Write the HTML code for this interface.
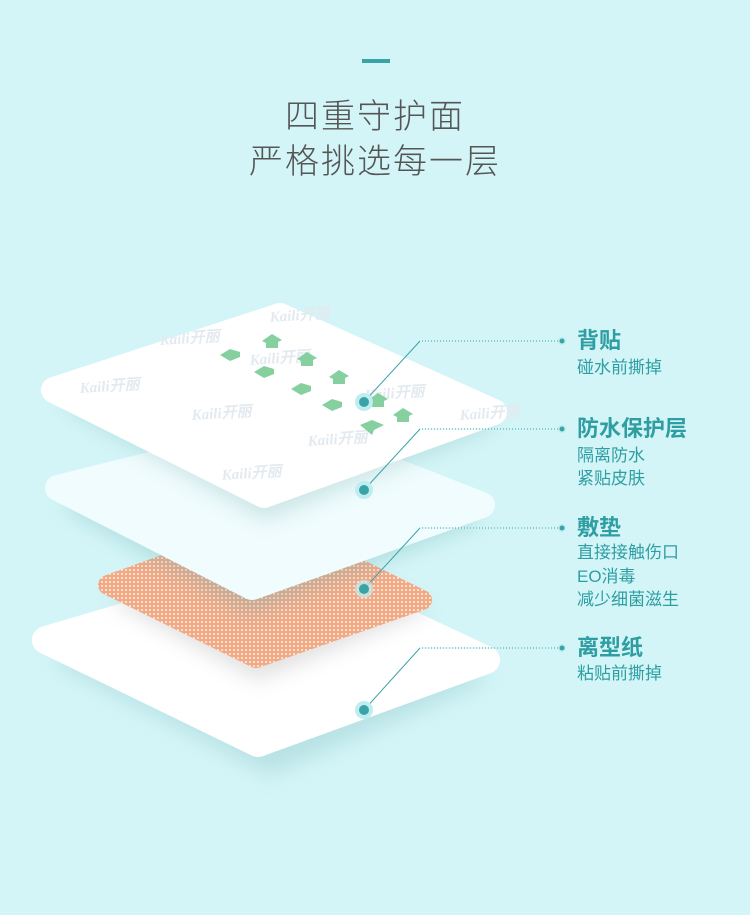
<!DOCTYPE html>
<html><head><meta charset="utf-8"><style>
body{margin:0;width:750px;height:915px;background:#d3f5f7;overflow:hidden;font-family:"Liberation Sans","Noto Sans CJK SC",sans-serif}
</style></head><body>
<svg width="750" height="915" viewBox="0 0 750 915" xmlns="http://www.w3.org/2000/svg" style="position:absolute;left:0;top:0">
<defs>
<pattern id="grid" width="4" height="4" patternUnits="userSpaceOnUse"><rect width="4" height="4" fill="#f2a986"/><rect x="1" y="1" width="2" height="2" fill="#fbe0d0"/></pattern>
<filter id="sh" x="-20%" y="-20%" width="140%" height="160%"><feGaussianBlur stdDeviation="10"/></filter>
</defs>
<rect x="362" y="59" width="28" height="4" fill="#3aa3a8"/>
<text x="375" y="128" text-anchor="middle" font-size="34" fill="#555" font-family="Liberation Sans,Noto Sans CJK SC,sans-serif" font-weight="300" letter-spacing="2">四重守护面</text>
<text x="375" y="173" text-anchor="middle" font-size="34" fill="#555" font-family="Liberation Sans,Noto Sans CJK SC,sans-serif" font-weight="300" letter-spacing="2">严格挑选每一层</text>
<g stroke-linejoin="round">
<polygon points="50,660 270,775 490,680 290,580" fill="#9fcfd3" opacity="0.5" filter="url(#sh)"/>
<polygon points="46,640 258,743 486,660 290,568" fill="#fff" stroke="#fff" stroke-width="28"/>
<polygon points="110,600 258,680 430,610 270,535" fill="#888" opacity="0.25" filter="url(#sh)"/>
<polygon points="108,585 256,658 422,600 272,526" fill="url(#grid)" stroke="url(#grid)" stroke-width="20"/>
<polygon points="60,505 250,615 485,520 290,430" fill="#6aa" opacity="0.3" filter="url(#sh)"/>
<polygon points="58,488 252,587 482,505 290,430" fill="#f0fcfd" stroke="#f0fcfd" stroke-width="26"/>
<polygon points="60,405 265,520 500,425 280,320" fill="#8bb" opacity="0.35" filter="url(#sh)"/>
<polygon points="54,390 264,495 494,412 280,316" fill="#fff" stroke="#fff" stroke-width="26"/>
</g>
<g font-family="Liberation Serif,serif" font-style="italic" font-weight="bold" font-size="15" fill="#e3eaef">
<text x="270" y="322" transform="rotate(-4 270 322)">Kaili开丽</text>
<text x="160" y="345" transform="rotate(-4 160 345)">Kaili开丽</text>
<text x="250" y="365" transform="rotate(-4 250 365)">Kaili开丽</text>
<text x="80" y="393" transform="rotate(-4 80 393)">Kaili开丽</text>
<text x="365" y="400" transform="rotate(-4 365 400)">Kaili开丽</text>
<text x="192" y="420" transform="rotate(-4 192 420)">Kaili开丽</text>
<text x="460" y="420" transform="rotate(-4 460 420)">Kaili开丽</text>
<text x="308" y="446" transform="rotate(-4 308 446)">Kaili开丽</text>
<text x="222" y="480" transform="rotate(-4 222 480)">Kaili开丽</text>
</g>
<g fill="#86d0a0">
<polygon points="262,341 272,334 282,340 278,342 278,348 266,348 266,343"/>
<polygon points="297,359 307,352 317,358 313,360 313,366 301,366 301,361"/>
<polygon points="329,377 339,370 349,376 345,378 345,384 333,384 333,379"/>
<polygon points="393,415 403,408 413,414 409,416 409,422 397,422 397,417"/>
<polygon points="368,400 378,393 388,399 384,401 384,407 372,407 372,402"/>
<polygon points="220,355 230,349 240,352 240,357 230,361"/>
<polygon points="254,372 264,366 274,369 274,374 264,378"/>
<polygon points="291,389 301,383 311,386 311,391 301,395"/>
<polygon points="322,405 332,399 342,402 342,407 332,411"/>
<polygon points="360,425 372,420 384,425 374,430 372,435"/>
</g>
<g stroke="#3aa3a8" stroke-width="1" fill="none">
<polyline points="364,402 420,341 560,341"/>
<polyline points="364,490 420,429 560,429"/>
<polyline points="364,589 420,528 560,528"/>
<polyline points="364,710 420,648 560,648"/>
</g>
<g stroke="#d3f5f7" stroke-width="1" stroke-dasharray="2,1">
<line x1="420" y1="341" x2="560" y2="341"/><line x1="420" y1="429" x2="560" y2="429"/><line x1="420" y1="528" x2="560" y2="528"/><line x1="420" y1="648" x2="560" y2="648"/>
</g>
<g fill="#3aa3a8">
<circle cx="364" cy="402" r="9" fill="#bfeef0"/><circle cx="364" cy="402" r="5"/>
<circle cx="364" cy="490" r="9" fill="#bfeef0"/><circle cx="364" cy="490" r="5"/>
<circle cx="364" cy="589" r="9" fill="#bfeef0" opacity="0.7"/><circle cx="364" cy="589" r="5"/>
<circle cx="364" cy="710" r="9" fill="#bfeef0"/><circle cx="364" cy="710" r="5"/>
<circle cx="562" cy="341" r="4" fill="#bfeef0"/><circle cx="562" cy="341" r="2.5"/>
<circle cx="562" cy="429" r="4" fill="#bfeef0"/><circle cx="562" cy="429" r="2.5"/>
<circle cx="562" cy="528" r="4" fill="#bfeef0"/><circle cx="562" cy="528" r="2.5"/>
<circle cx="562" cy="648" r="4" fill="#bfeef0"/><circle cx="562" cy="648" r="2.5"/>
</g>
<g font-family="Liberation Sans,Noto Sans CJK SC,sans-serif" fill="#2f9ea3">
<text x="577" y="348" font-size="22" font-weight="bold">背贴</text>
<text x="577" y="373" font-size="17">碰水前撕掉</text>
<text x="577" y="436" font-size="22" font-weight="bold">防水保护层</text>
<text x="577" y="461" font-size="17">隔离防水</text>
<text x="577" y="484" font-size="17">紧贴皮肤</text>
<text x="577" y="535" font-size="22" font-weight="bold">敷垫</text>
<text x="577" y="558" font-size="17">直接接触伤口</text>
<text x="577" y="582" font-size="17">EO消毒</text>
<text x="577" y="605" font-size="17">减少细菌滋生</text>
<text x="577" y="655" font-size="22" font-weight="bold">离型纸</text>
<text x="577" y="679" font-size="17">粘贴前撕掉</text>
</g>
</svg>
</body></html>
